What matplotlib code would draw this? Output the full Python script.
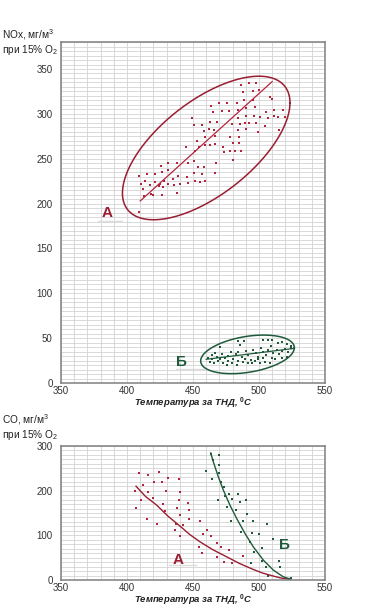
import numpy as np
import matplotlib
matplotlib.use('Agg')
import matplotlib.pyplot as plt

plt.rcParams['font.family'] = ['Liberation Sans', 'DejaVu Sans']
plt.rcParams['mathtext.fontset'] = 'custom'
plt.rcParams['mathtext.rm'] = 'Liberation Sans'
plt.rcParams['mathtext.it'] = 'Liberation Sans:italic'
plt.rcParams['mathtext.bf'] = 'Liberation Sans:bold'

RED = '#b3243c'
DARKRED = '#9a1d32'
GREEN = '#1f5b3b'

# ---- NOx, group A (red) ----
nox_a_t = [486.6, 492.4, 497.4, 487.8, 495.1, 500.2, 508.3, 510.0, 488.8, 495.4,
           469.4, 475.7, 483.5, 463.6, 511.1, 517.9, 464.8, 471.7, 477.5, 483.8,
           490.1, 496.9, 505.2, 448.9, 483.8, 489.8, 495.9, 500.7, 506.5, 511.1,
           514.1, 519.4, 462.6, 468.4, 489.1, 492.4, 497.4, 450.7, 456.8, 479.5,
           485.3, 504.7, 462.3, 466.1, 484.0, 490.1, 514.8, 458.0, 453.2, 459.3,
           466.6, 477.7, 484.8, 499.4, 454.7, 459.0, 462.8, 466.9, 480.2, 485.0,
           444.4, 451.5, 472.9, 473.7, 478.0, 481.5, 486.1, 480.2, 431.3, 437.8,
           446.2, 451.0, 467.4, 425.7, 453.5, 458.5, 409.3, 414.9, 420.9, 426.5,
           431.3, 438.6, 445.2, 450.7, 457.0, 466.4, 413.8, 421.4, 427.7, 434.8,
           410.8, 417.4, 425.2, 431.3, 435.6, 440.1, 445.9, 451.7, 455.3, 459.3,
           411.8, 423.9, 427.5, 412.8, 418.1, 419.7, 426.2, 437.6, 409.3]
nox_a = [331.9, 334.8, 334.5, 324.5, 325.6, 326.3, 318.9, 317.0, 315.6, 315.6,
         311.9, 311.9, 312.2, 309.3, 304.8, 304.8, 302.2, 303.3, 303.7, 304.8,
         306.7, 308.1, 302.6, 295.2, 295.2, 297.4, 297.8, 297.0, 295.6, 297.8,
         296.3, 296.7, 291.1, 291.5, 290.0, 289.3, 289.3, 287.4, 287.4, 288.2,
         288.9, 287.0, 282.6, 282.2, 282.2, 282.6, 281.9, 280.7, 270.0, 273.7,
         275.2, 274.4, 273.7, 280.0, 263.3, 265.6, 265.6, 266.3, 267.4, 267.0,
         262.6, 258.9, 263.3, 257.0, 258.9, 258.1, 258.9, 248.9, 245.2, 245.6,
         244.8, 247.8, 245.6, 241.9, 241.1, 241.1, 230.4, 233.0, 233.0, 235.2,
         237.4, 231.1, 230.0, 233.7, 233.0, 233.7, 225.6, 223.7, 224.8, 227.4,
         221.9, 221.1, 221.9, 221.9, 220.7, 221.9, 222.6, 225.6, 224.1, 224.8,
         215.9, 219.6, 218.9, 208.5, 210.7, 209.6, 209.6, 211.5, 190.4]
nox_a_fit_t = [410, 510]
nox_a_fit = [203, 336]

# ---- NOx, group B (green) ----
nox_b_t = [470.4, 483.8, 485.6, 488.9, 503.3, 507.1, 510.1, 514.1, 517.7, 520.9,
           524.0, 461.1, 464.6, 466.7, 468.4, 471.7, 474.2, 476.8, 478.8, 480.5,
           482.3, 484.3, 486.9, 489.9, 491.9, 493.9, 495.7, 497.7, 499.5, 501.5,
           503.3, 505.0, 507.1, 509.1, 510.8, 513.4, 515.1, 517.2, 519.7, 522.2,
           524.2, 462.9, 466.1, 469.2, 473.0, 475.5, 479.3, 483.1, 488.1, 491.4,
           494.4, 496.9, 500.7, 504.5, 508.3, 512.1, 517.2, 520.9, 464.1, 470.4,
           476.8, 483.8, 489.4, 499.0, 503.3, 509.6]
nox_b = [40.4, 46.7, 42.2, 46.7, 48.5, 48.5, 47.8, 44.8, 45.9, 43.3,
         41.1, 28.5, 31.1, 33.0, 29.3, 32.2, 27.4, 30.0, 34.8, 26.3,
         32.2, 34.8, 29.3, 35.9, 31.1, 25.6, 37.4, 33.0, 29.3, 39.6,
         34.8, 31.1, 36.7, 41.1, 33.0, 37.4, 32.2, 35.9, 38.5, 34.8,
         39.6, 23.7, 22.6, 24.8, 21.9, 20.0, 22.6, 20.0, 23.7, 22.6,
         21.9, 24.8, 21.9, 23.7, 22.6, 26.3, 27.4, 29.3, 26.3, 26.3,
         24.8, 24.8, 26.3, 26.3, 27.4, 27.8]
nox_b_fit_t = [460, 526]
nox_b_fit = [26.5, 38.5]

# ---- CO, group A (red) ----
co_a_t = [405.8, 406.8, 408.8, 410.9, 411.9, 416.2, 416.2, 414.9, 419.4, 420.7,
          422.5, 424.5, 426.5, 427.0, 428.5, 429.5, 431.1, 438.1, 439.1, 439.6,
          440.2, 440.2, 440.2, 436.6, 437.1, 442.7, 446.2, 446.7, 447.2, 455.3,
          454.8, 456.6, 457.8, 460.3, 463.4, 468.4, 468.4, 471.0, 473.5, 477.0,
          479.5, 487.6]
co_a = [200.2, 160.8, 239.7, 180.1, 213.6, 234.5, 198.0, 137.7, 183.1, 218.8,
        125.0, 241.9, 219.6, 171.2, 154.8, 199.5, 229.3, 162.3, 226.3, 178.6,
        145.9, 196.5, 99.7, 113.1, 125.0, 122.1, 173.4, 156.3, 137.7, 132.5,
        74.4, 59.5, 102.0, 113.1, 98.2, 52.1, 83.4, 74.4, 39.4, 67.0,
        37.2, 54.3]
co_a_fit_t = [406.8, 414.0, 422.5, 431.0, 440.2, 447.5, 455.3, 465.0, 475.5, 485.0,
              495.7, 503.0, 510.9, 517.0, 523.5]
co_a_fit = [209.9, 187.0, 167.5, 143.0, 120.6, 102.0, 85.6, 68.0, 52.1, 37.5,
            23.8, 15.5, 9.0, 4.5, 1.5]

# ---- CO, group B (green) ----
co_b_t = [463.4, 464.9, 470.0, 469.4, 459.8, 464.6, 470.0, 471.0, 473.5, 474.2,
          469.2, 475.5, 479.3, 477.5, 484.1, 485.6, 479.0, 482.6, 490.1, 491.2,
          487.9, 486.1, 495.7, 494.7, 493.2, 496.2, 494.2, 499.7, 505.8, 502.3,
          510.9, 502.3, 505.0, 506.8, 515.4, 515.9, 524.0]
co_b = [282.9, 268.0, 280.6, 256.8, 243.4, 227.0, 239.7, 219.6, 208.4, 187.6,
        180.1, 163.8, 181.6, 192.0, 192.0, 175.7, 132.5, 156.3, 178.6, 147.4,
        131.7, 107.9, 132.5, 105.7, 84.1, 63.3, 38.7, 102.7, 126.5, 70.7,
        90.8, 42.4, 28.3, 8.9, 43.2, 28.3, 4.4]
co_b_fit_t = [463.4, 465.4, 469.2, 473.0, 478.0, 483.1, 489.4, 495.7, 503.3, 510.9,
              518.4, 524.0]
co_b_fit = [284.3, 264.2, 230.8, 201.0, 167.5, 137.7, 104.2, 74.4, 44.7, 22.3,
            7.4, 2.2]

# ellipses: centre T, centre value, half-width T, half-height value, tilt phase
ell_a = (460.0, 262.0, 63.5, 80.0, 0.68)
ell_b = (491.3, 32.0, 35.5, 21.5, 0.35)

xticks = [350, 400, 450, 500, 550]
xlabel = 'Температура за ТНД, $^{\\mathbf{0}}$C'


def style_axes(ax, ymax, ystep, yminor):
    ax.set_xlim(350, 550)
    ax.set_ylim(0, ymax)
    ax.set_xticks(xticks)
    ax.set_yticks(np.arange(0, ymax + 1, ystep))
    ax.set_xticks(np.arange(350, 551, 10), minor=True)
    ax.set_yticks(np.arange(0, ymax + 1, yminor), minor=True)
    ax.grid(True, which='both', color='#d3d3d3', lw=0.6)
    ax.set_axisbelow(True)
    ax.tick_params(which='both', length=0, labelsize=7, colors='#333333')
    ax.tick_params(axis='y', pad=6)
    ax.tick_params(axis='x', pad=2)
    for s in ax.spines.values():
        s.set_color('#808080')
        s.set_linewidth(1.1)
    ax.set_xlabel(xlabel, fontsize=6.8, fontweight='bold', fontstyle='italic',
                  labelpad=0, color='#222222')


def draw_ellipse(ax, e, color):
    cx, cy, rx, ry, ph = e
    t = np.linspace(0, 2 * np.pi, 300)
    ax.plot(cx + rx * np.cos(t), cy + ry * np.sin(t + ph), color=color, lw=1.1)


fig = plt.figure(figsize=(3.68, 6.10), dpi=100)
ax1 = fig.add_axes([0.166, 0.372, 0.717, 0.559])
ax2 = fig.add_axes([0.166, 0.049, 0.717, 0.220])

# top chart: NOx
style_axes(ax1, 380, 50, 5)
ax1.plot([378, 396], [181, 181], color='#dddddd', lw=1.0)
ax1.plot([437, 458], [16, 16], color='#dddddd', lw=1.0)
draw_ellipse(ax1, ell_a, DARKRED)
draw_ellipse(ax1, ell_b, GREEN)
ax1.plot(nox_a_fit_t, nox_a_fit, color=RED, lw=0.9)
ax1.plot(nox_b_fit_t, nox_b_fit, color=GREEN, lw=0.9)
ax1.plot(nox_a_t, nox_a, 's', color=RED, ms=2.1, mew=0)
ax1.plot(nox_b_t, nox_b, 's', color=GREEN, ms=2.1, mew=0)
ax1.text(385, 189, 'А', color=DARKRED, fontsize=11, fontweight='bold',
         ha='center', va='center')
ax1.text(441.5, 23, 'Б', color=GREEN, fontsize=11, fontweight='bold',
         ha='center', va='center')

# bottom chart: CO
style_axes(ax2, 300, 100, 10)
ax2.plot([432, 452], [33, 33], color='#dddddd', lw=1.0)
ax2.plot(co_a_fit_t, co_a_fit, color=DARKRED, lw=1.0)
ax2.plot(co_b_fit_t, co_b_fit, color=GREEN, lw=1.0)
ax2.plot(co_a_t, co_a, 's', color=RED, ms=2.1, mew=0)
ax2.plot(co_b_t, co_b, 's', color=GREEN, ms=2.1, mew=0)
ax2.text(439, 46, 'А', color=DARKRED, fontsize=11, fontweight='bold',
         ha='center', va='center')
ax2.text(519.5, 78, 'Б', color=GREEN, fontsize=11, fontweight='bold',
         ha='center', va='center')

fig.text(0.006, 1 - 27 / 610, 'NOx, мг/м$^3$\nпри 15% O$_2$', fontsize=7.3,
         va='top', ha='left', color='#222222', linespacing=1.15)
fig.text(0.006, 1 - 412 / 610, 'CO, мг/м$^3$\nпри 15% O$_2$', fontsize=7.3,
         va='top', ha='left', color='#222222', linespacing=1.15)

fig.savefig('out.png', dpi=100)
